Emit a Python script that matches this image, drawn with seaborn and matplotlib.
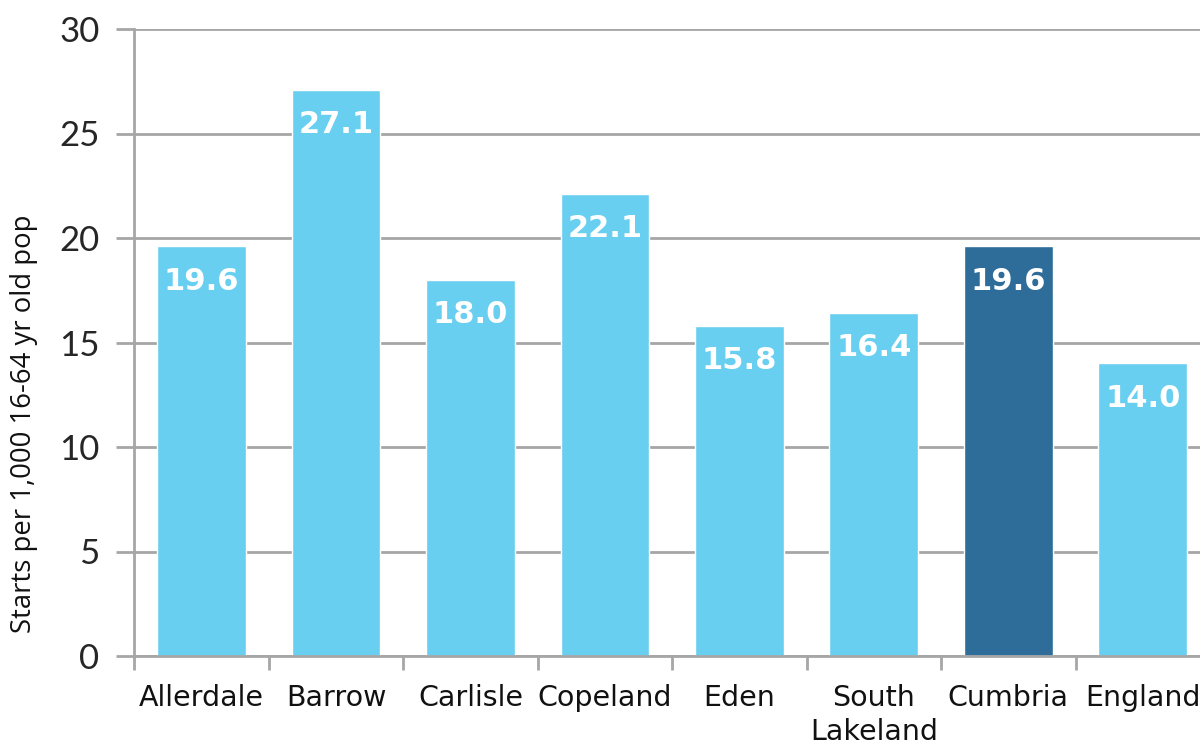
import matplotlib
matplotlib.use("Agg")
import matplotlib.pyplot as plt
import seaborn as sns
import pandas as pd
from matplotlib.ticker import FixedLocator

areas = ["Allerdale", "Barrow", "Carlisle", "Copeland", "Eden", "South\nLakeland", "Cumbria", "England"]
starts = [19.6, 27.1, 18.0, 22.1, 15.8, 16.4, 19.6, 14.0]
bar_colors = ["#69CFF0"] * 6 + ["#2E6C99"] + ["#69CFF0"]
y_ticks = [0, 5, 10, 15, 20, 25, 30]

df = pd.DataFrame({"area": areas, "starts": starts})

sns.set_theme(style="white")
plt.rcParams["font.family"] = ["DejaVu Sans"]

fig = plt.figure(figsize=(12, 7.44), dpi=100)
ax = fig.add_axes([134.25 / 1200, 1 - 656 / 744, (1210 - 134.25) / 1200, (656 - 29) / 744])

sns.barplot(data=df, x="area", y="starts", hue="area", palette=bar_colors,
            legend=False, width=0.66, saturation=1, ax=ax)

ax.set_xlim(-0.5, len(areas) - 0.5)
ax.set_ylim(0, 30)
ax.yaxis.set_major_locator(FixedLocator(y_ticks))
ax.yaxis.grid(True, color="#A6A6A6", linewidth=2)
ax.set_axisbelow(True)

for s in ["top", "right"]:
    ax.spines[s].set_visible(False)
for s in ["left", "bottom"]:
    ax.spines[s].set_color("#A6A6A6")
    ax.spines[s].set_linewidth(2)

ax.tick_params(axis="y", which="major", direction="out", length=13, width=2,
               color="#A6A6A6", pad=12, labelsize=25, left=True)
for lbl in ax.get_yticklabels():
    lbl.set_family("Lato")

# category labels centred, tick marks on the boundaries between categories
ax.tick_params(axis="x", which="major", length=0, pad=20, labelsize=20.5, labelcolor="#111111")
ax.xaxis.set_minor_locator(FixedLocator([i - 0.5 for i in range(len(areas) + 1)]))
ax.tick_params(axis="x", which="minor", direction="out", length=10, width=2,
               color="#A6A6A6", bottom=True)
for lbl in ax.get_xticklabels():
    lbl.set_linespacing(1.3)

ax.set_xlabel("")
ax.set_ylabel("Starts per 1,000 16-64 yr old pop", fontsize=19.8, family="Open Sans",
              color="#111111")
ax.yaxis.set_label_coords(-0.0895, 0.37)

for i, v in enumerate(starts):
    ax.annotate(f"{v:.1f}", xy=(i, v), xytext=(0, -25), textcoords="offset points",
                ha="center", va="center", color="white", fontsize=22, fontweight="bold")

fig.savefig("out.png", dpi=100)
